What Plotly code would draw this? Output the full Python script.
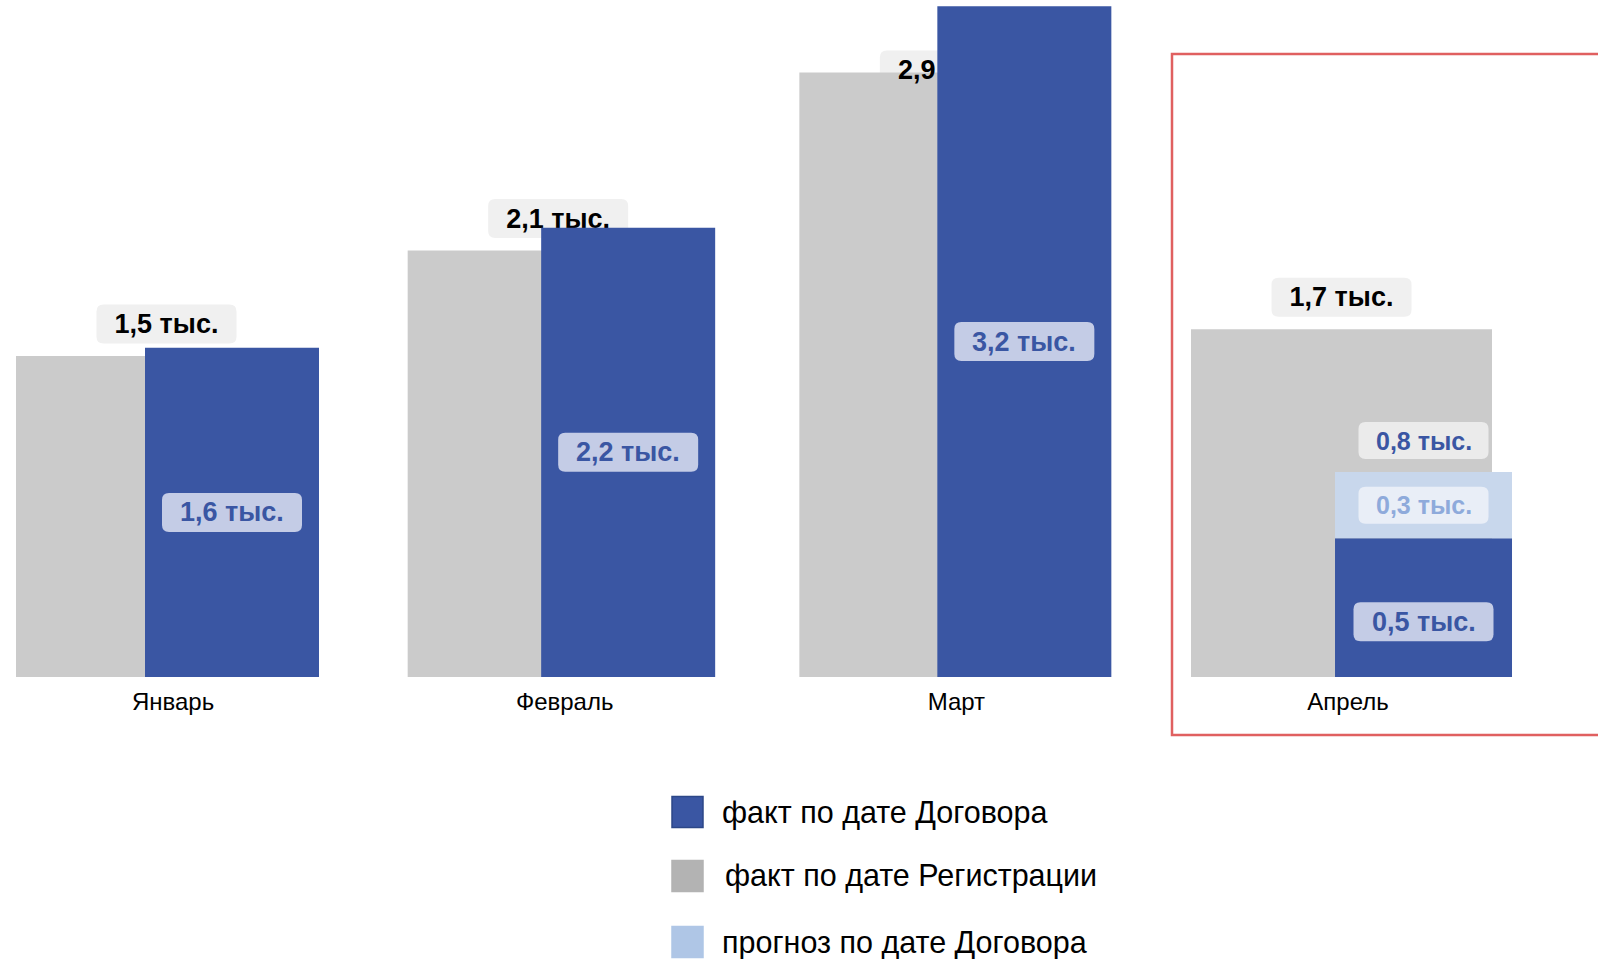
import plotly.graph_objects as go

# ---------------- data ----------------
months = ["Январь", "Февраль", "Март", "Апрель"]
fact_registration = [1.55, 2.06, 2.92, 1.68]      # серые столбцы, тыс.
fact_contract = [1.59, 2.17, 3.24, 0.67]          # синие столбцы, тыс.
forecast_contract = [None, None, None, 0.32]      # прогноз (только апрель), тыс.
registration_labels = ["1,5 тыс.", "2,1 тыс.", "2,9 тыс.", "1,7 тыс."]
contract_labels = ["1,6 тыс.", "2,2 тыс.", "3,2 тыс.", "0,5 тыс."]
forecast_label = "0,3 тыс."
april_total_label = "0,8 тыс."
legend_names = ["факт по дате Договора", "факт по дате Регистрации", "прогноз по дате Договора"]

# ---------------- styling / geometry ----------------
W, H = 1598, 959
PLOT_H = 677
YMAX = 3.27
PX = PLOT_H / YMAX          # pixels per unit on y
UNIT = 391.67               # pixels per category on x
X0 = 166.5                  # pixel position of first category

FONT = "Arial, Liberation Sans, sans-serif"
C_GRAY = "#CBCBCB"
C_BLUE = "#3A56A3"
C_FC = "#C8D7EC"


def dx(p):
    return p / UNIT


gray_off = dx(-150.5)
gray_w = dx(301)
blue_off_px = [-21.5, -17, -12.5, -6.5]
blue_w_px = [174, 174, 174, 177]
blue_off = [dx(p) for p in blue_off_px]
blue_w = [dx(p) for p in blue_w_px]
xs = list(range(len(months)))

# vertical position (pixels above bar top) of the grey-bar labels
gray_cy = [min(32, (YMAX - v) * PX - 70) for v in fact_registration]
BOX_W, BOX_H = 140, 39

fig = go.Figure()
fig.add_trace(go.Bar(x=xs, y=fact_registration, offset=gray_off, width=gray_w,
                     marker=dict(color=C_GRAY, line=dict(width=0)),
                     name=legend_names[1], showlegend=False, hoverinfo="skip"))
# transparent carrier for the grey labels (drawn beneath the blue bars, as in the original)
fig.add_trace(go.Bar(x=xs, y=[BOX_H / PX] * len(xs),
                     base=[v + (c - BOX_H / 2) / PX for v, c in zip(fact_registration, gray_cy)],
                     offset=dx(-BOX_W / 2), width=dx(BOX_W),
                     marker=dict(color="rgba(0,0,0,0)", line=dict(width=0)),
                     text=[f"<b>{t}</b>" for t in registration_labels],
                     textposition="inside", insidetextanchor="middle", textangle=0,
                     constraintext="none",
                     insidetextfont=dict(family=FONT, size=27, color="#000000"),
                     showlegend=False, hoverinfo="skip"))
fig.add_trace(go.Bar(x=xs, y=fact_contract, offset=blue_off, width=blue_w,
                     marker=dict(color=C_BLUE, line=dict(width=0)),
                     name=legend_names[0], showlegend=False, hoverinfo="skip"))
fig.add_trace(go.Bar(x=xs, y=forecast_contract, base=fact_contract, offset=blue_off, width=blue_w,
                     marker=dict(color=C_FC, line=dict(width=0)),
                     name=legend_names[2], showlegend=False, hoverinfo="skip"))

shapes = []
annotations = []


def rounded_path(w, h, r, cy):
    x0, x1 = -w / 2, w / 2
    y0, y1 = cy - h / 2, cy + h / 2
    return (f"M {x0 + r},{y0} L {x1 - r},{y0} Q {x1},{y0} {x1},{y0 + r} "
            f"L {x1},{y1 - r} Q {x1},{y1} {x1 - r},{y1} L {x0 + r},{y1} "
            f"Q {x0},{y1} {x0},{y1 - r} L {x0},{y0 + r} Q {x0},{y0} {x0 + r},{y0} Z")


def box(xa, ya, cy, w, h, bg, layer):
    shapes.append(dict(type="path", xref="x", yref="y", xsizemode="pixel", ysizemode="pixel",
                       xanchor=xa, yanchor=ya, path=rounded_path(w, h, 7, cy),
                       fillcolor=bg, line=dict(width=0), layer=layer))


def label(xa, ya, cy, text, color, size):
    annotations.append(dict(xref="x", yref="y", x=xa, y=ya, yshift=cy, showarrow=False,
                            xanchor="center", yanchor="middle", text=f"<b>{text}</b>",
                            font=dict(family=FONT, size=size, color=color)))


# boxes for the grey-bar labels (below traces)
for i, v in enumerate(fact_registration):
    box(i, v, gray_cy[i], BOX_W, BOX_H, "#F0F0F0", "below")

# labels inside blue bars
for i, v in enumerate(fact_contract):
    xc = i + blue_off[i] + blue_w[i] / 2
    cy = -14 if forecast_contract[i] is not None else 0
    box(xc, v / 2, cy, BOX_W, BOX_H, "#C4CCE6", "above")
    label(xc, v / 2, cy, contract_labels[i], C_BLUE, 27)

# forecast labels (April)
for i, f in enumerate(forecast_contract):
    if f is None:
        continue
    xc = i + blue_off[i] + blue_w[i] / 2
    base = fact_contract[i]
    box(xc, base + f / 2, 0, 130, 37, "#E9EEF7", "above")
    label(xc, base + f / 2, 0, forecast_label, "#8EAADB", 25)
    box(xc, base + f, 31.5, 130, 37, "#EBEBEB", "above")
    label(xc, base + f, 31.5, april_total_label, C_BLUE, 25)


def py(p):
    return 1 - p / PLOT_H


# red highlight frame around April
shapes.append(dict(type="rect", xref="paper", yref="paper",
                   x0=1172 / W, x1=1.02, y0=py(735), y1=py(54),
                   line=dict(color="#E06060", width=2.5), fillcolor="rgba(0,0,0,0)", layer="above"))

# custom legend
leg_colors = [C_BLUE, "#B3B3B3", "#AFC6E6"]
leg_border = ["#2C4788", "#B3B3B3", "#AFC6E6"]
leg_cy = [812, 876, 942]
leg_tx = [720, 723, 720]
for k, name in enumerate(legend_names):
    shapes.append(dict(type="rect", xref="paper", yref="paper",
                       x0=672 / W, x1=703 / W, y0=py(leg_cy[k] + 15.5), y1=py(leg_cy[k] - 15.5),
                       fillcolor=leg_colors[k], line=dict(color=leg_border[k], width=1.5)))
    annotations.append(dict(xref="paper", yref="paper", x=leg_tx[k] / W, y=py(leg_cy[k]),
                            xanchor="left", yanchor="middle", showarrow=False, text=name,
                            font=dict(family=FONT, size=30.5, color="#000000")))

fig.update_layout(
    width=W, height=H, autosize=False,
    margin=dict(l=0, r=0, t=0, b=H - PLOT_H, pad=0),
    barmode="overlay",
    plot_bgcolor="white", paper_bgcolor="white",
    showlegend=False,
    shapes=shapes, annotations=annotations,
    font=dict(family=FONT),
    xaxis=dict(range=[-X0 / UNIT, (W - X0) / UNIT], tickvals=[i + dx(6.5) for i in xs],
               ticktext=months, showgrid=False, zeroline=False, showline=False, ticks="",
               tickfont=dict(family=FONT, size=24, color="#000000"), ticklabelstandoff=8,
               fixedrange=True),
    yaxis=dict(range=[0, YMAX], visible=False, showgrid=False, zeroline=False, fixedrange=True),
)

fig.write_html("out.html", config={"displayModeBar": False},
               post_script="document.body.style.margin='0';document.body.style.overflow='hidden';")
